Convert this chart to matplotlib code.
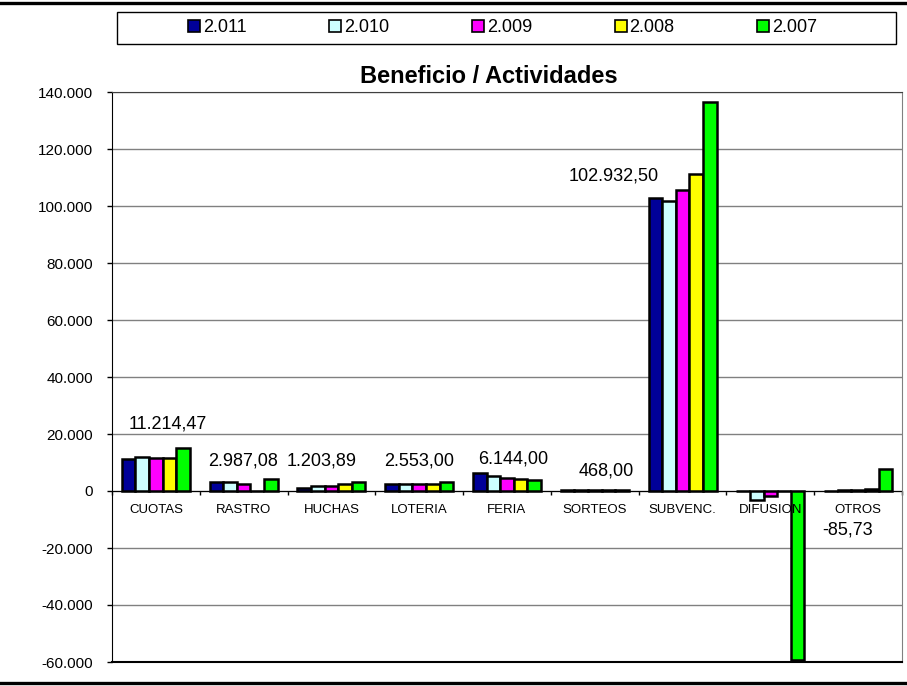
import matplotlib
matplotlib.use("Agg")
import matplotlib.pyplot as plt
import numpy as np
from matplotlib.lines import Line2D
from matplotlib.patches import Rectangle

plt.rcParams['font.family'] = ['Liberation Sans', 'DejaVu Sans']

categories = ["CUOTAS", "RASTRO", "HUCHAS", "LOTERIA", "FERIA", "SORTEOS", "SUBVENC.", "DIFUSION", "OTROS"]
series_names = ["2.011", "2.010", "2.009", "2.008", "2.007"]
v2011 = [11214.47, 2987.08, 1203.89, 2553.00, 6144.00, 468.00, 102932.50, 0.0, -85.73]
v2010 = [12000, 3000, 1600, 2500, 5200, 500, 101600, -3300, 300]
v2009 = [11500, 2400, 1900, 2500, 4700, 400, 105700, -1800, 300]
v2008 = [11700, 0, 2500, 2500, 4300, 400, 111200, 0, 600]
v2007 = [15000, 4100, 3000, 3200, 4000, 300, 136400, -59300, 7600]
series_values = [v2011, v2010, v2009, v2008, v2007]
colors = ["#000098", "#CCFFFF", "#FF00FF", "#FFFF00", "#00FF00"]
yticks = list(range(-60000, 140001, 20000))

# label placement (layout): x shift in category units, baseline y in data units
label_dx = [0.14, -0.01, -0.11, 0.0, 0.07, 0.13, -0.79, None, -0.12]
label_y = [22100, 9100, 9100, 9100, 9500, 5300, 108900, None, -15100]

W, H = 907, 686
fig = plt.figure(figsize=(W / 100, H / 100), dpi=100)
ax = fig.add_axes([112 / W, 1 - 662 / H, (902 - 112) / W, (662 - 92) / H])

x = np.arange(len(categories))
bw = 0.155
for j, (vals, col) in enumerate(zip(series_values, colors)):
    ax.bar(x + (j - 2) * bw, vals, bw, color=col, edgecolor='black',
           linewidth=1.8, zorder=3)

ax.set_xlim(-0.5, len(categories) - 0.5)
ax.set_ylim(-60000, 140000)
ax.set_yticks(yticks)
ax.set_yticklabels([f"{v:,}".replace(",", ".") for v in yticks], fontsize=11)
ax.yaxis.grid(True, color='#808080', lw=1)
ax.set_axisbelow(True)
ax.tick_params(axis='y', direction='out', length=3.6, width=1, pad=10, colors='black')

ax.spines['bottom'].set_position(('data', 0))
ax.spines['bottom'].set_color('black')
ax.spines['bottom'].set_zorder(2)
ax.spines['left'].set_color('black')
ax.spines['top'].set_color('#404040')
ax.spines['right'].set_color('#808080')
ax.set_xticks(np.arange(-0.5, len(categories) + 0.5, 1))
ax.set_xticklabels([])
ax.tick_params(axis='x', direction='out', length=3, width=1)
ax.axhline(-60000, color='black', lw=1.5, clip_on=False, zorder=4)

for i, c in enumerate(categories):
    ax.annotate(c, (i, 0), xytext=(0, -15.8), textcoords='offset points',
                ha='center', va='baseline', fontsize=9.5, zorder=6)

for i, v in enumerate(v2011):
    if label_dx[i] is None:
        continue
    txt = f"{v:,.2f}".replace(",", "X").replace(".", ",").replace("X", ".")
    ax.text(i + label_dx[i], label_y[i], txt, ha='center', va='baseline',
            fontsize=13, zorder=5)

fig.text(489 / W, 1 - 83 / H, "Beneficio / Actividades", ha='center',
         va='baseline', fontsize=17, fontweight='bold')

handles = [Line2D([], [], linestyle='none', marker='s', markersize=8,
                  markerfacecolor=c, markeredgecolor='black', markeredgewidth=1.2)
           for c in colors]
fig.legend(handles, series_names, loc='center', bbox_to_anchor=(502.5 / W, 1 - 28 / H),
           ncol=5, frameon=False, fontsize=13, handlelength=0.7, handletextpad=0.15,
           columnspacing=4.55, borderaxespad=0, borderpad=0)
fig.patches.append(Rectangle((117 / W, 1 - 44 / H), (896 - 117) / W, 32 / H,
                             transform=fig.transFigure, fill=False,
                             edgecolor='black', lw=1))
for yy in (3, 683):
    fig.lines.append(Line2D([0, 1], [1 - yy / H] * 2, transform=fig.transFigure,
                            color='black', lw=2.4))

fig.savefig("out.png", dpi=100)
